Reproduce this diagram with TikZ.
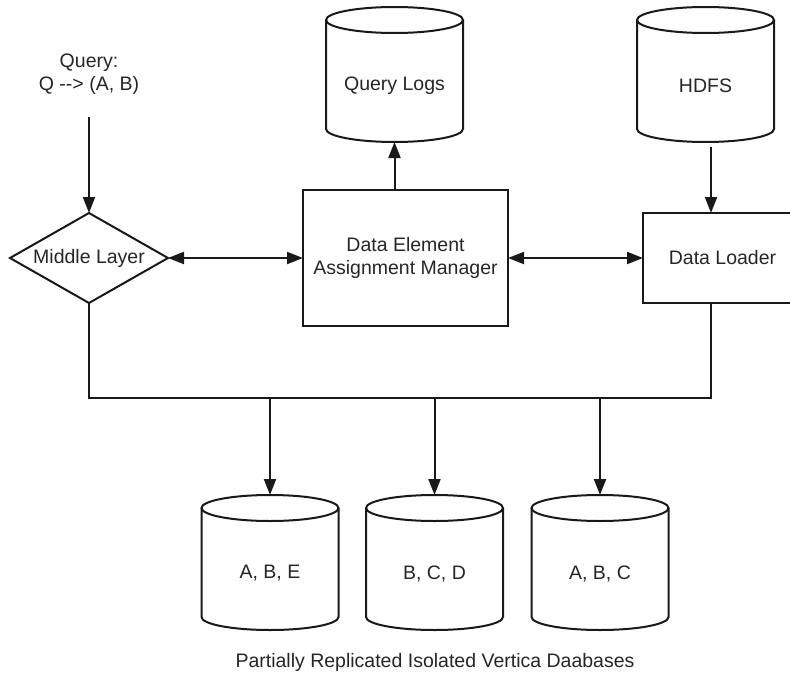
\documentclass[tikz,border=0pt]{standalone}
\usepackage{fontspec}
\setmainfont{Liberation Sans}
\usetikzlibrary{shapes.geometric,arrows.meta}
\newcommand\dbcyl[5]{%
  \node[cylbox, minimum height={#4-#3}] (#1) at (#2,{(#3+#4)/2}) {};
  \draw[line] (#2,#3+13) ellipse[x radius=68.5, y radius=13];
  \draw[line] (#2-68.5,#3+13) -- (#2-68.5,#4-13)
      arc[start angle=180, end angle=0, x radius=68.5, y radius=13]
      -- (#2+68.5,#3+13);
  \node[txt] at (#2,{(#3+#4)/2+11}) {#5};
}
\begin{document}
\begin{tikzpicture}[x=1pt,y=-1pt,
  line/.style={line width=2pt, draw=black!90},
  txt/.style={font=\fontsize{19.5}{23}\selectfont, text=black!85, align=center},
  cylbox/.style={draw=none, minimum width=137, inner sep=0pt, outer sep=0pt},
  box/.style={line, rectangle, inner sep=0pt, outer sep=0pt, txt},
  arr/.style={line, -{Triangle[length=16pt,width=12pt]}},
  darr/.style={line, {Triangle[length=16pt,width=12pt]}-{Triangle[length=16pt,width=12pt]}}]
\clip (0,0) rectangle (790,677);
\fill[white] (0,0) rectangle (790,677);

% query text
\node[txt] (q) at (89,74) {Query:\\Q -{}-> (A, B)};
\coordinate (qs) at (89,117);

% middle layer diamond
\node[line, diamond, txt, minimum width=158, minimum height=90, aspect=1.756,
      inner sep=0pt, outer sep=0pt] (ml) at (89,258) {Middle Layer};

% DEAM box
\node[box, minimum width=205, minimum height=136] (deam) at (405.5,258)
  {Data Element\\Assignment Manager};

% Data loader box (cut by the picture edge)
\node[box, minimum width=159, minimum height=90] (dl) at (722.5,258) {Data Loader};

% cylinders
\dbcyl{ql}{394.5}{7}{142}{Query Logs}
\dbcyl{hdfs}{705.5}{7}{142}{HDFS}
\dbcyl{db1}{270}{495}{630}{A, B, E}
\dbcyl{db2}{434.5}{495}{630}{B, C, D}
\dbcyl{db3}{600}{495}{630}{A, B, C}

% caption
\node[txt] (cap) at (435,662) {Partially Replicated Isolated Vertica Daabases};

% connectors
\draw[arr] (qs) -- (ml.north);
\draw[darr] (ml.east) -- (deam.west);
\draw[darr] (deam.east) -- (dl.west);
\draw[arr] (deam.north -| ql.south) -- (ql.south);
\coordinate (hdfsout) at (711,147);
\draw[arr] (hdfsout) -- (hdfsout |- dl.north);
\coordinate (bus) at (400,398);
\coordinate (dlout) at (711,303);
\draw[line] (ml.south) |- (bus) -| (dlout);
\draw[arr] (db1.north |- bus) -- (db1.north);
\draw[arr] (db2.north |- bus) -- (db2.north);
\draw[arr] (db3.north |- bus) -- (db3.north);
\end{tikzpicture}
\end{document}
